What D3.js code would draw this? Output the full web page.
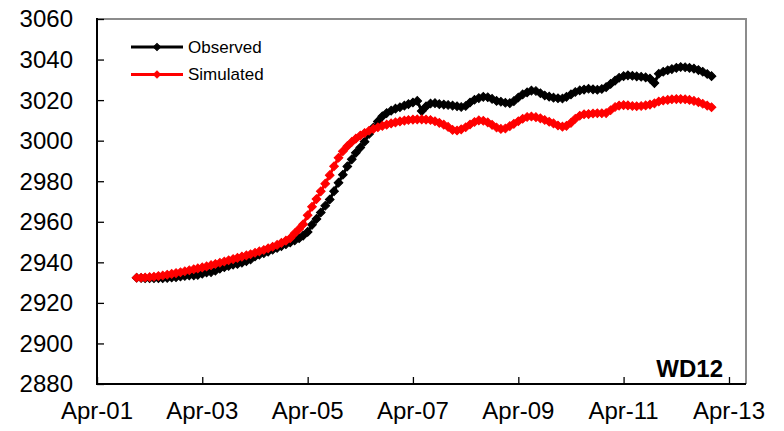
<!DOCTYPE html>
<html>
<head>
<meta charset="utf-8">
<script src="https://cdn.jsdelivr.net/npm/d3@7/dist/d3.min.js"></script>
<style>
  html, body { margin: 0; padding: 0; background: #fff; }
  svg { display: block; }
  text { font-family: "Liberation Sans", Arial, sans-serif; fill: #000; }
</style>
</head>
<body>
<svg id="chart" width="784" height="431"></svg>
<script>
// Monthly water levels, January 2002 through December 2012
const firstMonth = "2002-01";
const observed = [
  2932.4, 2932.3, 2932.2, 2932.2, 2932.2, 2932.2, 2932.2, 2932.3, 2932.5, 2932.7, 2933.0, 2933.3,
  2933.5, 2933.6, 2933.8, 2934.4, 2935.0, 2935.2, 2935.9, 2936.9, 2937.6, 2938.2, 2938.9, 2939.2,
  2939.8, 2940.6, 2941.4, 2942.9, 2943.8, 2944.5, 2945.3, 2946.2, 2947.1, 2948.0, 2948.9, 2949.8,
  2950.8, 2951.9, 2953.2, 2955.0, 2958.5, 2961.4, 2964.6, 2967.9, 2971.0, 2975.1, 2979.3, 2983.2,
  2987.3, 2990.8, 2994.0, 2996.6, 2999.5, 3003.3, 3006.5, 3009.5, 3012.0, 3013.6, 3014.8, 3015.8,
  3016.5, 3017.3, 3018.0, 3018.8, 3019.6, 3014.6, 3016.9, 3018.3, 3018.5, 3018.0, 3017.8, 3017.6,
  3017.3, 3017.0, 3016.6, 3017.1, 3018.8, 3020.2, 3021.0, 3021.6, 3021.4, 3020.6, 3019.6, 3019.2,
  3018.7, 3018.5, 3019.5, 3021.3, 3022.8, 3023.8, 3024.7, 3024.5, 3023.4, 3022.3, 3021.7, 3021.2,
  3020.9, 3020.8, 3021.6, 3022.8, 3024.0, 3024.8, 3025.2, 3025.6, 3025.3, 3025.1, 3025.5, 3026.4,
  3028.0, 3029.6, 3031.0, 3031.8, 3032.2, 3032.0, 3031.7, 3031.5, 3031.2, 3030.6, 3028.4, 3033.0,
  3034.0, 3034.7, 3035.3, 3035.9, 3036.3, 3036.2, 3035.9, 3035.5, 3034.8, 3034.0, 3032.9, 3031.8
];
const simulated = [
  2932.4, 2932.4, 2932.5, 2932.7, 2932.9, 2933.2, 2933.5, 2933.9, 2934.3, 2934.7, 2935.1, 2935.6,
  2936.1, 2936.6, 2937.0, 2937.5, 2938.0, 2938.6, 2939.2, 2939.8, 2940.4, 2941.0, 2941.6, 2942.2,
  2942.8, 2943.4, 2944.0, 2944.7, 2945.4, 2946.1, 2946.9, 2947.7, 2948.6, 2949.6, 2950.7, 2951.9,
  2954.3, 2956.5, 2958.8, 2963.2, 2967.4, 2971.2, 2975.0, 2978.8, 2983.0, 2987.4, 2991.6, 2994.8,
  2997.3, 2999.4, 3001.0, 3002.5, 3003.8, 3004.9, 3005.8, 3006.6, 3007.3, 3007.9, 3008.5, 3009.0,
  3009.5, 3009.9, 3010.2, 3010.4, 3010.5, 3010.5, 3010.4, 3010.2, 3009.6, 3008.8, 3007.9, 3006.8,
  3005.3, 3005.0, 3005.6, 3006.6, 3008.0, 3009.2, 3010.0, 3009.8, 3009.0, 3007.8, 3006.5, 3005.8,
  3006.0, 3007.2, 3008.3, 3009.6, 3010.8, 3011.7, 3011.9, 3011.6, 3011.0, 3010.2, 3009.3, 3008.5,
  3007.5, 3006.9, 3007.3, 3008.8, 3010.8, 3012.3, 3013.0, 3013.1, 3013.4, 3013.5, 3013.5, 3013.6,
  3015.0, 3016.6, 3017.3, 3017.5, 3017.4, 3017.1, 3017.0, 3017.1, 3017.4, 3017.8, 3018.4, 3019.3,
  3019.8, 3020.1, 3020.4, 3020.5, 3020.5, 3020.4, 3020.1, 3019.6, 3019.0, 3018.2, 3017.3, 3016.5
];
const seriesNames = ["Observed", "Simulated"];
const seriesColors = ["#000000", "#ff0000"];
const yTicks = [2880, 2900, 2920, 2940, 2960, 2980, 3000, 3020, 3040, 3060];
const xTickLabels = ["Apr-01", "Apr-03", "Apr-05", "Apr-07", "Apr-09", "Apr-11", "Apr-13"];
const stationLabel = "WD12";

const svg = d3.select("#chart");
const plotLeft = 97, plotRight = 746, plotTop = 19, plotBottom = 384;

const parseMonth = d3.timeParse("%Y-%m");
const startMonth = parseMonth(firstMonth);
const dateAt = i => d3.timeMonth.offset(startMonth, i);
const parseTick = d3.timeParse("%b-%y");
const tickDates = xTickLabels.map(parseTick);

const x = d3.scaleTime()
  .domain([new Date(2001, 3, 1), new Date(2013, 6, 28)])
  .range([plotLeft, plotRight]);
const y = d3.scaleLinear().domain([2880, 3060]).range([plotBottom, plotTop]);

// plot frame: grey top/right edges
svg.append("path")
  .attr("d", `M${plotLeft},${plotTop}H${plotRight}V${plotBottom}`)
  .attr("fill", "none").attr("stroke", "#8c8c8c").attr("stroke-width", 2);

// y axis with inward ticks
const yAxis = d3.axisRight(y).tickValues(yTicks).tickSize(7).tickFormat("");
const gy = svg.append("g").attr("transform", `translate(${plotLeft},0)`).call(yAxis);
gy.select(".domain").remove();
gy.selectAll(".tick line").attr("stroke", "#000").attr("stroke-width", 1.3);
svg.selectAll(".ylab").data(yTicks).join("text")
  .attr("class", "ylab")
  .attr("x", 73).attr("y", d => y(d)).attr("dy", "0.35em")
  .attr("text-anchor", "end").attr("font-size", 24)
  .text(d => d);

// x axis with inward ticks
const xAxis = d3.axisTop(x).tickValues(tickDates).tickSize(7).tickFormat("");
const gx = svg.append("g").attr("transform", `translate(0,${plotBottom})`).call(xAxis);
gx.select(".domain").remove();
gx.selectAll(".tick line").attr("stroke", "#000").attr("stroke-width", 1.3);
svg.selectAll(".xlab").data(tickDates).join("text")
  .attr("class", "xlab")
  .attr("x", d => x(d)).attr("y", 419)
  .attr("text-anchor", "middle").attr("font-size", 24)
  .text((d, i) => xTickLabels[i]);

// axis lines
svg.append("line").attr("x1", plotLeft).attr("x2", plotLeft).attr("y1", plotTop - 1).attr("y2", plotBottom + 1)
  .attr("stroke", "#000").attr("stroke-width", 2);
svg.append("line").attr("x1", plotLeft - 1).attr("x2", plotRight).attr("y1", plotBottom).attr("y2", plotBottom)
  .attr("stroke", "#000").attr("stroke-width", 2);

// series: line + diamond markers
const diamond = d3.symbol().type(d3.symbolSquare).size(38);
const legendDiamond = d3.symbol().type(d3.symbolSquare).size(26);
const line = d3.line().x((d, i) => x(dateAt(i))).y(d => y(d));

[observed, simulated].forEach((vals, k) => {
  const g = svg.append("g");
  g.append("path").datum(vals).attr("d", line)
    .attr("fill", "none").attr("stroke", seriesColors[k]).attr("stroke-width", 3);
  g.selectAll("path.m").data(vals).join("path")
    .attr("class", "m")
    .attr("d", diamond)
    .attr("transform", (d, i) => `translate(${x(dateAt(i))},${y(d)}) rotate(45)`)
    .attr("fill", seriesColors[k]).attr("stroke", seriesColors[k]).attr("stroke-width", 1);
});

// legend
const legend = svg.append("g");
seriesNames.forEach((name, k) => {
  const ly = 47 + k * 27.5;
  legend.append("line").attr("x1", 131).attr("x2", 183).attr("y1", ly).attr("y2", ly)
    .attr("stroke", seriesColors[k]).attr("stroke-width", 3);
  legend.append("path").attr("d", legendDiamond)
    .attr("transform", `translate(157,${ly}) rotate(45)`)
    .attr("fill", seriesColors[k]).attr("stroke", seriesColors[k]);
  legend.append("text").attr("x", 188).attr("y", ly).attr("dy", "0.35em")
    .attr("font-size", 17).text(name);
});

svg.append("text").attr("x", 723).attr("y", 377)
  .attr("text-anchor", "end").attr("font-size", 24).attr("font-weight", "bold")
  .text(stationLabel);
</script>
</body>
</html>
